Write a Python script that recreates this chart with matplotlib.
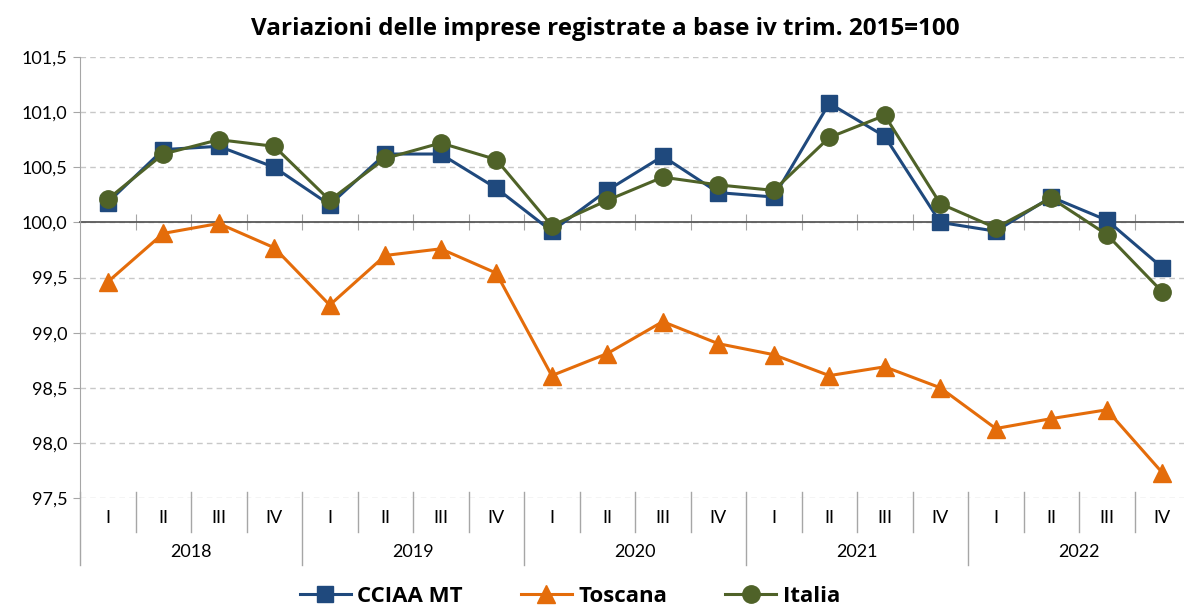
import matplotlib.pyplot as plt
from matplotlib.ticker import FuncFormatter, MultipleLocator
import matplotlib.transforms as mtransforms

plt.rcParams['font.family'] = ['Lato', 'DejaVu Sans']

# dati (base iv trim. 2015 = 100)
anni = ["2018", "2019", "2020", "2021", "2022"]
trimestri = ["I", "II", "III", "IV"]
cciaa_mt = [100.18, 100.66, 100.69, 100.50,
            100.16, 100.62, 100.62, 100.31,
            99.92, 100.29, 100.60, 100.27,
            100.23, 101.08, 100.78, 100.00,
            99.92, 100.23, 100.02, 99.59]
toscana = [99.46, 99.90, 99.99, 99.77,
           99.25, 99.70, 99.76, 99.54,
           98.61, 98.81, 99.10, 98.90,
           98.80, 98.61, 98.69, 98.50,
           98.13, 98.22, 98.30, 97.73]
italia = [100.21, 100.62, 100.75, 100.69,
          100.20, 100.58, 100.72, 100.57,
          99.97, 100.20, 100.41, 100.34,
          100.29, 100.77, 100.97, 100.17,
          99.95, 100.22, 99.89, 99.37]

blu = "#1F497D"
arancio = "#E46C0A"
verde = "#4F6228"
grigio = "#A6A6A6"

n = len(cciaa_mt)
x = list(range(n))

fig = plt.figure(figsize=(11.84, 6.10), dpi=100)
ax = fig.add_axes([80 / 1184, 112 / 610, 1110 / 1184, 441 / 610])

ax.plot(x, cciaa_mt, color=blu, lw=2.2, marker="s", ms=12, label="CCIAA MT", zorder=4)
ax.plot(x, toscana, color=arancio, lw=2.2, marker="^", ms=13, label="Toscana", zorder=3)
ax.plot(x, italia, color=verde, lw=2.2, marker="o", ms=12.5, label="Italia", zorder=5)

ax.set_xlim(-0.5, n - 0.5)
ax.set_ylim(97.5, 101.5)
ax.yaxis.set_major_locator(MultipleLocator(0.5))
ax.yaxis.set_major_formatter(FuncFormatter(lambda v, p: f"{v:.1f}".replace(".", ",")))
ax.tick_params(axis="y", direction="out", length=5, color=grigio, labelsize=13, pad=4)
ax.grid(axis="y", color="#C8C8C8", linestyle=(0, (4, 3)), lw=1)
ax.set_axisbelow(True)

for s in ["top", "right"]:
    ax.spines[s].set_visible(False)
ax.spines["left"].set_color(grigio)
ax.spines["bottom"].set_position(("data", 100))
ax.spines["bottom"].set_color("#595959")
ax.spines["bottom"].set_linewidth(1.3)
ax.spines["bottom"].set_zorder(2)

# tacche dell'asse categorie sui confini tra trimestri
ax.set_xticks([i + 0.5 for i in x[:-1]])
ax.tick_params(axis="x", direction="inout", length=12, color=grigio, labelbottom=False)

# etichette a due livelli sotto l'area del grafico
trans = mtransforms.blended_transform_factory(ax.transData, ax.transAxes)
for i in x:
    ax.text(i, -0.045, trimestri[i % 4], transform=trans, ha="center", va="center",
            fontsize=13)
for k, anno in enumerate(anni):
    ax.text(k * 4 + 1.5, -0.122, anno, transform=trans, ha="center", va="center",
            fontsize=13)
for i in range(n):
    lo = -0.152 if i % 4 == 0 else -0.077
    ax.plot([i - 0.5, i - 0.5], [0.0136, lo], transform=trans, color=grigio, lw=1,
            clip_on=False)

fig.text(605 / 1184, 0.952, "Variazioni delle imprese registrate a base iv trim. 2015=100",
         ha="center", va="center", fontsize=17.5, fontweight="bold",
         family=["Open Sans", "DejaVu Sans"])

fig.legend(loc="center", bbox_to_anchor=(570 / 1184, 0.022), ncol=3, frameon=False,
           prop={"size": 16, "weight": "bold", "family": ["Open Sans", "DejaVu Sans"]},
           handlelength=2.3, handletextpad=0.3, columnspacing=2.6)

fig.savefig("out.png", dpi=100)
